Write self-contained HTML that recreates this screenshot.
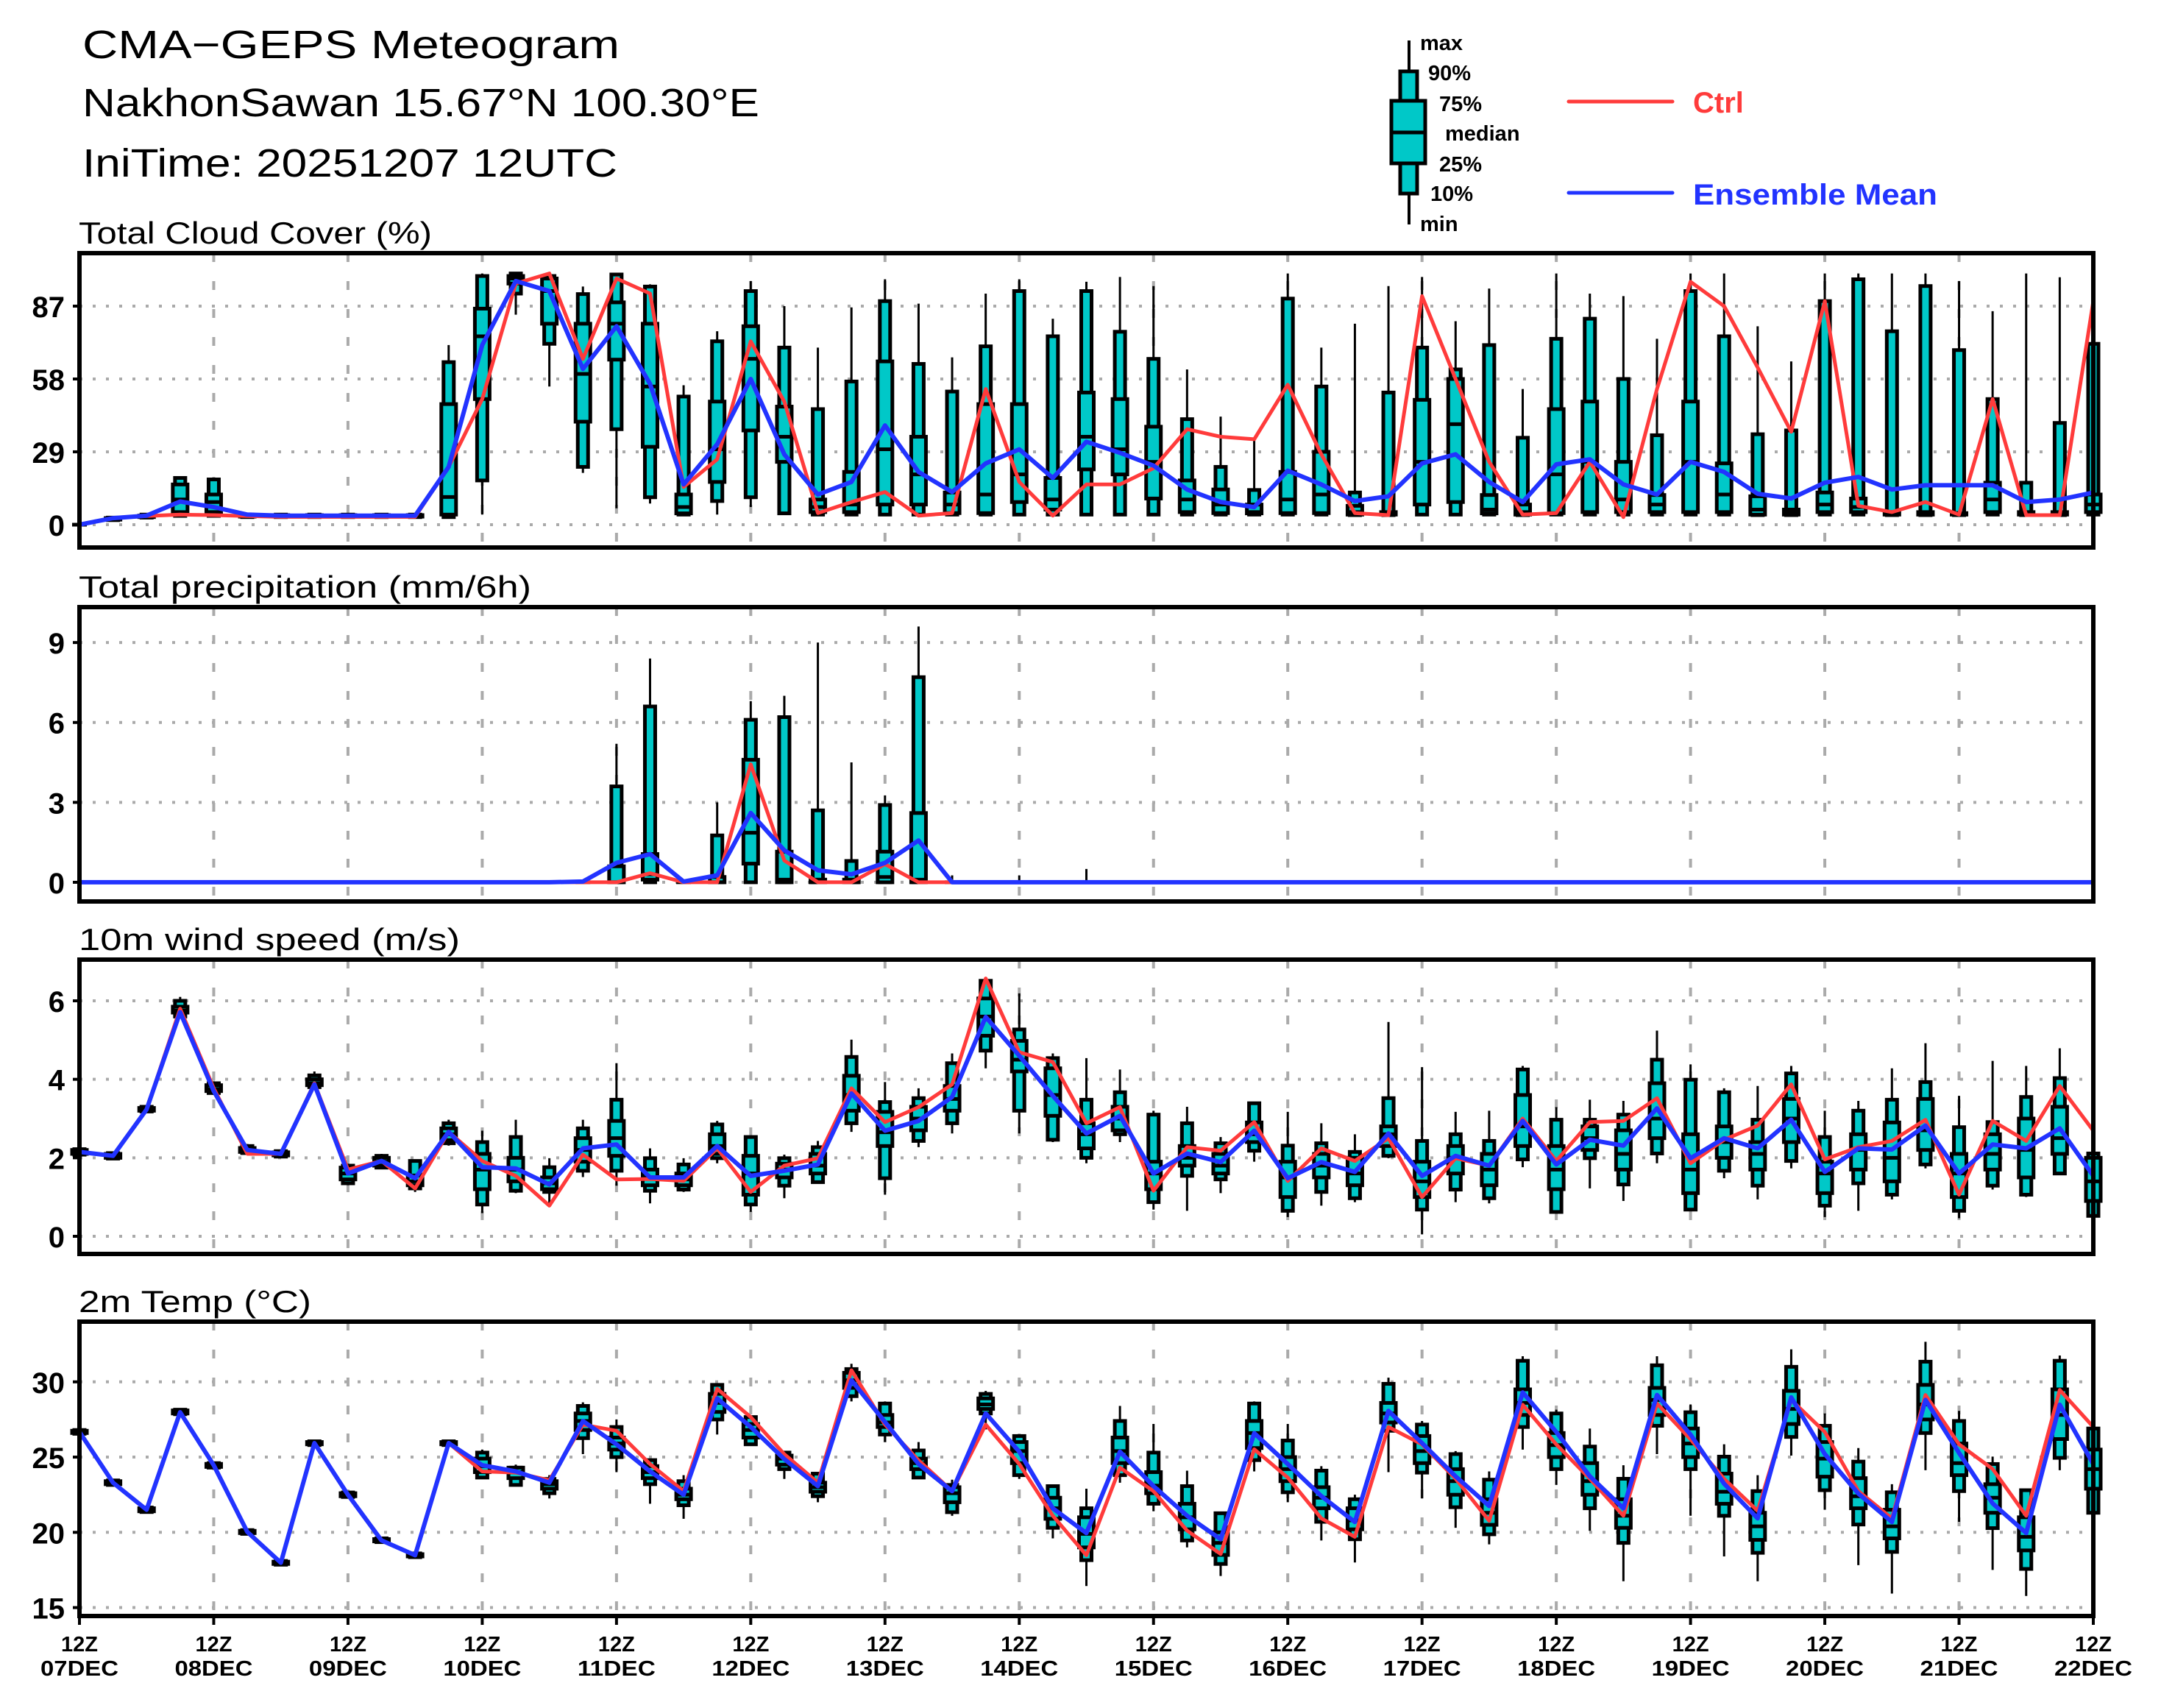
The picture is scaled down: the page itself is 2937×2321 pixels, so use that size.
<!DOCTYPE html>
<html><head><meta charset="utf-8">
<style>
html,body{margin:0;padding:0;background:#fff;}
svg{display:block;}
text{font-family:"Liberation Sans",Arial,sans-serif;}
</style></head>
<body>
<svg id="chart" xmlns="http://www.w3.org/2000/svg" width="2937" height="2321" viewBox="0 0 2937 2321">
<rect x="0" y="0" width="2937" height="2321" fill="#fff"/>
<g>
<text x="112" y="79" font-size="54" textLength="730" lengthAdjust="spacingAndGlyphs">CMA−GEPS Meteogram</text>
<text x="112" y="158" font-size="54" textLength="920" lengthAdjust="spacingAndGlyphs">NakhonSawan 15.67°N 100.30°E</text>
<text x="112" y="240" font-size="54" textLength="727" lengthAdjust="spacingAndGlyphs">IniTime: 20251207 12UTC</text>
</g>
<g>
<line x1="1915" y1="55" x2="1915" y2="305" stroke="#000" stroke-width="4"/>
<rect x="1903" y="97" width="23" height="166" fill="#00c8c8" stroke="#000" stroke-width="5"/>
<rect x="1891" y="137" width="46" height="85" fill="#00c8c8" stroke="#000" stroke-width="5"/>
<line x1="1891" y1="180" x2="1937" y2="180" stroke="#000" stroke-width="5"/>
<g font-size="29" font-weight="bold">
<text x="1930" y="68">max</text>
<text x="1941" y="109">90%</text>
<text x="1956" y="151">75%</text>
<text x="1964" y="191">median</text>
<text x="1956" y="233">25%</text>
<text x="1944" y="273">10%</text>
<text x="1930" y="314">min</text>
</g>
<line x1="2132" y1="138" x2="2273" y2="138" stroke="#ff3b3b" stroke-width="5" stroke-linecap="round"/>
<text x="2301" y="153" font-size="40" font-weight="bold" fill="#ff3b3b">Ctrl</text>
<line x1="2132" y1="262" x2="2273" y2="262" stroke="#2233ff" stroke-width="5" stroke-linecap="round"/>
<text x="2301" y="278" font-size="40" fill="#2233ff" font-weight="bold" textLength="332" lengthAdjust="spacingAndGlyphs">Ensemble Mean</text>
</g>
</svg>
<script>
const hours = [0,6,12,18,24,30,36,42,48,54,60,66,72,78,84,90,96,102,108,114,120,126,132,138,144,150,156,162,168,174,180,186,192,198,204,210,216,222,228,234,240,246,252,258,264,270,276,282,288,294,300,306,312,318,324,330,336,342,348,354,360];
const dayLabels = ["07DEC","08DEC","09DEC","10DEC","11DEC","12DEC","13DEC","14DEC","15DEC","16DEC","17DEC","18DEC","19DEC","20DEC","21DEC","22DEC"];

const cloudTicks = [0,29,58,87];
const cloudCtrl = [0,2.6,3.4,4,3.8,3.4,3.1,3.1,3.1,3.1,3.1,23,50,96,100,66,98,92,15,26,73,49,4.6,9,13,3.6,4.6,54,17,3.6,16,16,22.5,38,35,34,55.7,28,4.6,3.8,91,58,25,4,4.6,25,3,54,96.7,87,62.6,37,89,7.5,5,9,4,50,3.8,3.8,89];
const cloudMean = [0,2.6,3.6,9.2,7,4,3.6,3.6,3.6,3.6,3.6,23,71.5,97,93,62,79,56,16,32,58,28,12,17,39.5,21,13,24.4,30,18.6,33,28.6,23.5,14,9,7,21.5,16,9.4,11.3,24.4,28,17,9,24,26,16,12,25,21,12.3,10.4,16.7,19,14,15.7,15.7,15.7,9,10,12.8];
const cloudBox = [
[0,0,0,0,0,0,0],[1.5,1.8,2,2.3,2.6,2.8,3],[2.5,2.8,3,3.3,3.6,4,4.5],[3,3.5,5,10,16,18.6,19],[3,3.5,5,9,12,18,18],
[2.8,3,3.2,3.5,3.8,4,4.2],[2.8,3,3.2,3.5,3.8,4,4.2],[2.8,3,3.2,3.5,3.8,4,4.2],[2.8,3,3.2,3.5,3.8,4,4.2],[2.8,3,3.2,3.5,3.8,4,4.2],[2.8,3,3.2,3.5,3.8,4,4.2],
[3,3,4,11,48,64.7,71.5],[4,17.6,50,75,86,99,100],[83.6,92,96,98,99,100,100],[55,72,80,93,98,99,100],[20.6,23,41,60,80,91.8,94.8],
[6.5,38,65.7,80,88.5,99.6,100],[8.4,10.9,31,55,80,94.8,95.7],[3.6,4,4.5,7,12,51,55.5],[4,9.4,17,30,49,73,77],[7,10.9,37.5,66,79,93,97],
[4,4.5,25,35,47,70.5,87],[3.5,4,5,7,10,46,70.5],[3.6,4,5,8,21,57,86.5],[3.6,4,8,30,65,89,97.7],[3.6,4,8,20,35,64,88],
[3.6,4,4.6,8,12.8,53,66.6],[3.6,4,4.6,12,48,71,92],[3.6,4,9,20,48,93,97.7],[3.6,4,6,10,18.6,75,82],[3.6,4,22,35,52.6,93,96.7],
[3.6,4,20,30,50,76.8,98.6],[3.6,4,10.4,25,39,66,95],[3.6,4,5,10,17.6,42,61.8],[3.6,4,4.6,8,14,23,43],[3.6,4,4.5,5,8,13.8,33.7],
[3.6,4,4.6,10,21,90,100],[3.6,4,4.6,12,29,55,70.5],[3.6,3.8,4,5,7.5,12.8,80],[3.6,3.8,4,4.5,5,52.6,95],[3.6,4,8,25,49.7,70.5,98.6],
[3.6,4,9,40,58,61.8,81],[3.6,4,4.5,6,11.8,71.5,94],[3.6,3.8,4,5,8,34.6,54],[3.6,4,4.6,20,46,74,100],[3.6,4,5,25,49,82,92],
[3.6,4,5,10,25,58,91],[3.6,4,5,8,11.8,35.6,74],[3.6,4,5,25,49,93,100],[3.6,4,5,12,24.4,75,100],[3.6,3.8,4,6,11.3,36,79],
[3.6,3.8,4,5,6,37.5,65],[3.6,4,5,8,12.8,89,100],[3.6,4,5,7,10.4,97.7,100],[3.6,3.8,4,4.5,5,77,100],[3.6,3.8,4,4.5,5,95,100],
[3.6,3.8,4,4.2,4.6,69.5,97],[3.6,4,5,10,16.7,50,85],[3.6,3.8,4,4.5,5,16.7,100],[3.6,3.8,4,4.5,5,40.5,98.5],[3.6,4,5,8,12,72,72]];

const precipTicks = [0,3,6,9];
const precipCtrl = [0,0,0,0,0,0,0,0,0,0,0,0,0,0,0,0,0,0.34,0,0,4.43,0.82,0,0,0.68,0,0,0,0,0,0,0,0,0,0,0,0,0,0,0,0,0,0,0,0,0,0,0,0,0,0,0,0,0,0,0,0,0,0,0,0];
const precipMean = [0,0,0,0,0,0,0,0,0,0,0,0,0,0,0,0.03,0.73,1.06,0.03,0.26,2.6,1.2,0.45,0.3,0.73,1.57,0,0,0,0,0,0,0,0,0,0,0,0,0,0,0,0,0,0,0,0,0,0,0,0,0,0,0,0,0,0,0,0,0,0,0];
const precipBox = [
[0,0,0,0,0,0,0],[0,0,0,0,0,0,0],[0,0,0,0,0,0,0],[0,0,0,0,0,0,0],[0,0,0,0,0,0,0],[0,0,0,0,0,0,0],[0,0,0,0,0,0,0],[0,0,0,0,0,0,0],[0,0,0,0,0,0,0],[0,0,0,0,0,0,0],
[0,0,0,0,0,0,0],[0,0,0,0,0,0,0],[0,0,0,0,0,0,0],[0,0,0,0,0,0,0],[0,0,0,0,0,0,0],[0,0,0,0,0,0,0.05],
[0,0,0,0,0.6,3.6,5.2],[0,0,0.1,0.3,1.06,6.6,8.4],[0,0,0,0,0,0,0.05],[0,0,0,0,0.2,1.76,3.0],[0,0,0.7,1.86,4.6,6.1,6.8],
[0,0,0,0.1,1.15,6.2,7.0],[0,0,0,0,0.1,2.7,9.0],[0,0,0,0,0.1,0.8,4.5],[0,0,0,0.2,1.15,2.9,3.26],[0,0,0,0.1,2.6,7.7,9.6],
[0,0,0,0,0,0,0.26],[0,0,0,0,0,0,0],[0,0,0,0,0,0,0.26],[0,0,0,0,0,0,0],[0,0,0,0,0,0,0.5],
[0,0,0,0,0,0,0],[0,0,0,0,0,0,0],[0,0,0,0,0,0,0],[0,0,0,0,0,0,0],[0,0,0,0,0,0,0],[0,0,0,0,0,0,0],[0,0,0,0,0,0,0],[0,0,0,0,0,0,0],[0,0,0,0,0,0,0],[0,0,0,0,0,0,0],
[0,0,0,0,0,0,0],[0,0,0,0,0,0,0],[0,0,0,0,0,0,0],[0,0,0,0,0,0,0],[0,0,0,0,0,0,0],[0,0,0,0,0,0,0],[0,0,0,0,0,0,0],[0,0,0,0,0,0,0],[0,0,0,0,0,0,0],[0,0,0,0,0,0,0],
[0,0,0,0,0,0,0],[0,0,0,0,0,0,0],[0,0,0,0,0,0,0],[0,0,0,0,0,0,0],[0,0,0,0,0,0,0],[0,0,0,0,0,0,0],[0,0,0,0,0,0,0],[0,0,0,0,0,0,0],[0,0,0,0,0,0,0],[0,0,0,0,0,0,0]];

const windTicks = [0,2,4,6];
const windCtrl = [2.15,2.05,3.23,5.8,3.77,2.1,2.1,3.9,1.7,1.92,1.22,2.66,1.92,1.54,0.78,2.08,1.45,1.46,1.41,2.24,1.13,1.8,1.99,3.77,2.91,3.29,3.87,6.57,4.69,4.44,2.88,3.29,1.16,2.27,2.18,2.91,1.41,2.24,1.92,2.5,1.0,1.99,1.8,3.0,1.92,2.91,2.94,3.52,1.86,2.46,2.82,3.87,1.96,2.27,2.43,2.97,1.06,2.94,2.43,3.83,2.69];
const windMean = [2.15,2.05,3.23,5.71,3.7,2.2,2.1,3.87,1.6,1.92,1.48,2.66,1.76,1.73,1.32,2.24,2.34,1.5,1.5,2.3,1.54,1.67,1.83,3.64,2.69,2.94,3.55,5.59,4.6,3.58,2.62,3.07,1.6,2.11,1.89,2.69,1.48,1.89,1.64,2.62,1.54,2.05,1.8,2.94,1.83,2.46,2.31,3.26,1.99,2.5,2.24,2.97,1.64,2.24,2.21,2.82,1.6,2.34,2.24,2.75,1.54];
const windBox = [
[2.05,2.08,2.1,2.15,2.2,2.22,2.25],[1.95,1.98,2.0,2.05,2.1,2.12,2.15],[3.15,3.18,3.2,3.23,3.27,3.3,3.33],[5.55,5.6,5.7,5.75,5.85,6.0,6.1],[3.6,3.65,3.7,3.75,3.85,3.9,3.95],
[2.1,2.12,2.15,2.2,2.25,2.3,2.35],[2.0,2.03,2.06,2.1,2.14,2.17,2.2],[3.75,3.8,3.85,3.9,4.0,4.1,4.2],[1.3,1.35,1.45,1.6,1.75,1.8,1.85],[1.73,1.75,1.8,1.9,2.0,2.05,2.1],
[1.13,1.22,1.3,1.4,1.55,1.92,1.96],[2.31,2.37,2.45,2.6,2.75,2.88,2.97],[0.59,0.81,1.2,1.7,2.1,2.4,2.69],[1.1,1.16,1.4,1.7,2.0,2.53,2.97],[0.78,1.13,1.2,1.35,1.5,1.76,1.99],
[1.51,1.67,1.9,2.2,2.5,2.75,2.97],[1.29,1.67,2.05,2.5,2.94,3.48,4.41],[0.84,1.16,1.3,1.5,1.7,1.99,2.24],[1.13,1.19,1.3,1.45,1.6,1.83,1.99],[1.86,1.99,2.1,2.3,2.6,2.85,2.94],
[0.62,0.81,1.06,1.6,2.05,2.53,2.53],[0.97,1.29,1.5,1.7,1.85,1.99,2.08],[1.35,1.38,1.6,1.8,2.1,2.27,2.43],[2.66,2.88,3.2,3.6,4.09,4.57,5.01],[1.06,1.48,2.3,2.65,3.17,3.42,3.93],
[2.27,2.43,2.7,3.0,3.3,3.52,3.77],[2.62,2.88,3.2,3.5,3.83,4.41,4.66],[4.28,4.73,5.11,5.6,6.06,6.51,6.6],[2.62,3.2,4.2,4.5,4.98,5.27,6.19],[2.4,2.46,3.07,3.6,4.28,4.54,4.66],
[1.86,2.0,2.24,2.6,2.88,3.48,4.54],[2.4,2.6,2.7,3.0,3.3,3.67,4.25],[0.68,0.87,1.2,1.6,1.9,3.1,3.2],[0.65,1.54,1.8,2.0,2.3,2.88,3.3],[1.1,1.45,1.6,1.8,2.1,2.37,2.53],
[1.9,2.18,2.4,2.6,2.9,3.39,3.39],[0.49,0.65,1.0,1.5,1.9,2.31,3.17],[0.78,1.13,1.5,1.8,2.1,2.37,2.88],[0.87,0.97,1.3,1.6,2.0,2.15,2.6],[1.99,2.05,2.3,2.6,2.8,3.52,5.46],
[0.05,0.68,1.0,1.4,1.9,2.43,4.31],[0.87,1.19,1.6,2.0,2.3,2.6,3.17],[0.84,0.97,1.3,1.7,2.1,2.43,3.2],[1.76,1.96,2.3,2.8,3.6,4.25,4.34],[0.62,0.62,1.2,1.7,2.3,2.97,3.29],
[1.22,1.99,2.2,2.5,2.8,2.97,3.48],[0.9,1.32,1.7,2.1,2.7,3.1,3.45],[1.86,2.11,2.5,3.0,3.9,4.5,5.24],[0.68,0.68,1.1,1.7,2.6,3.99,4.38],[1.48,1.67,2.0,2.4,2.8,3.67,3.77],
[0.94,1.29,1.7,2.1,2.4,2.97,3.83],[1.73,1.92,2.4,3.0,3.5,4.15,4.34],[0.49,0.78,1.1,1.6,1.9,2.53,3.2],[0.65,1.35,1.7,2.2,2.6,3.2,3.45],[0.94,1.06,1.4,2.0,2.9,3.48,4.28],
[1.73,1.83,2.2,2.7,3.5,3.93,4.92],[0.46,0.65,1.0,1.6,2.1,2.78,3.58],[1.19,1.29,1.7,2.1,2.6,2.91,4.47],[1.0,1.06,1.5,2.2,3.0,3.55,4.34],[1.6,1.6,2.1,2.5,3.3,4.03,4.79],
[0.52,0.52,0.9,1.4,2.0,2.11,2.69]];

const tempTicks = [15,20,25,30];
const tempCtrl = [26.67,23.3,21.5,28.0,24.46,20.03,17.98,25.93,22.5,19.46,18.48,25.93,24.05,23.97,23.46,27.16,26.75,24.54,22.74,29.54,27.66,25.2,23.3,30.77,27.16,24.79,22.74,27.16,24.54,21.1,18.48,24.3,22.74,20.11,18.56,25.52,23.64,20.93,19.7,27.0,25.85,23.56,20.77,28.48,25.85,23.56,21.1,28.56,26.18,23.56,21.43,28.8,26.67,22.74,20.93,29.13,25.85,24.21,21.1,29.46,27.0];
const tempMean = [26.67,23.3,21.5,27.98,24.46,20.03,17.98,25.93,22.5,19.46,18.48,25.93,24.46,24.05,23.3,27.4,25.85,24.05,22.5,28.9,27.0,24.87,23.07,30.11,27.33,24.54,22.74,27.9,25.36,21.6,19.95,25.36,23.07,21.1,19.54,26.59,24.54,22.41,20.69,28.07,25.93,23.72,21.75,29.3,26.67,23.72,21.6,29.13,26.5,23.23,20.93,28.97,25.2,22.57,20.69,28.8,25.28,21.92,19.95,28.48,24.54];
const tempBox = [
[26.5,26.55,26.6,26.67,26.75,26.8,26.85],[23.1,23.15,23.2,23.3,23.4,23.45,23.5],[21.3,21.35,21.4,21.5,21.6,21.65,21.7],[27.8,27.85,27.9,28.0,28.1,28.15,28.2],[24.25,24.3,24.35,24.45,24.55,24.6,24.65],
[19.85,19.9,19.95,20.03,20.1,20.15,20.2],[17.8,17.85,17.9,17.98,18.05,18.1,18.15],[25.75,25.8,25.85,25.93,26.0,26.05,26.1],[22.3,22.35,22.4,22.5,22.6,22.65,22.7],[19.3,19.35,19.4,19.46,19.55,19.6,19.65],
[18.3,18.35,18.4,18.48,18.55,18.6,18.65],[25.75,25.8,25.85,25.93,26.0,26.05,26.1],[23.55,23.64,24.0,24.4,24.9,25.3,25.5],[23.15,23.15,23.6,24.0,24.3,24.3,24.5],[22.25,22.6,22.9,23.2,23.4,23.55,23.8],
[25.2,26.26,26.8,27.4,27.9,28.4,28.64],[24.0,25.0,25.5,25.9,26.3,27.0,27.5],[21.9,23.2,23.6,24.0,24.4,24.8,24.8],[20.9,21.8,22.2,22.5,22.9,23.4,23.8],[26.5,27.5,28.0,28.6,29.2,29.8,29.9],
[25.8,25.85,26.3,26.8,27.2,27.66,27.66],[23.55,24.2,24.5,24.9,25.1,25.3,25.3],[22.0,22.4,22.7,23.0,23.3,23.9,23.97],[28.7,29.05,29.6,30.1,30.6,30.85,31.2],[26.0,26.5,27.0,27.3,27.8,28.56,28.7],
[23.55,23.64,24.2,24.6,24.9,25.44,26.0],[21.1,21.34,22.0,22.6,23.0,23.15,23.5],[26.84,27.9,28.2,28.5,28.9,29.2,29.4],[23.55,23.8,24.6,25.4,26.0,26.4,26.5],[19.6,20.3,20.9,21.6,22.3,23.07,23.07],
[16.43,18.15,19.0,19.9,21.0,21.6,22.9],[23.3,23.8,24.6,25.4,26.3,27.4,28.4],[21.4,21.9,22.6,23.1,24.0,25.3,27.2],[19.0,19.46,20.2,21.0,21.9,23.07,24.1],[17.1,17.9,18.5,19.3,20.0,21.27,21.27],
[24.05,24.8,25.6,26.6,27.4,28.56,28.7],[22.0,22.66,23.4,24.2,25.0,26.1,27.2],[19.46,20.7,21.6,22.3,23.0,24.1,24.4],[18.0,19.54,20.2,20.8,21.6,22.2,22.5],[24.0,26.75,27.3,27.9,28.6,29.87,30.28],
[22.25,23.97,24.6,25.4,26.4,27.16,27.4],[20.3,21.67,22.5,23.4,24.2,25.2,25.4],[19.2,19.87,20.5,21.3,22.2,23.5,24.05],[25.5,27.0,27.8,28.6,29.5,31.4,31.7],[23.15,24.2,25.0,25.8,26.6,27.9,28.15],
[20.1,21.6,22.5,23.4,24.6,25.7,26.9],[16.75,19.3,20.3,21.1,22.2,23.56,24.46],[25.2,27.08,27.8,28.8,29.6,31.1,31.7],[21.1,24.2,25.0,25.9,26.9,27.98,28.5],[18.4,21.1,21.9,22.7,23.9,25.03,25.85],
[16.75,18.64,19.5,20.4,21.3,22.74,23.8],[25.1,26.34,27.2,28.2,29.4,31.0,32.16],[21.5,22.8,23.7,24.9,26.0,27.08,27.9],[17.82,20.52,21.6,22.4,23.6,24.7,25.6],[15.93,18.7,19.6,20.4,21.5,22.66,23.2],
[24.13,26.6,27.5,28.5,29.8,31.34,32.66],[20.7,22.74,23.8,24.6,25.9,27.4,28.07],[17.5,20.28,21.3,22.3,23.2,24.54,25.03],[15.77,17.57,18.8,19.7,21.0,22.8,22.9],[24.13,24.95,26.2,27.8,29.5,31.4,31.75],
[21.3,21.3,22.9,24.2,25.5,26.9,26.9]];

const NS = "http://www.w3.org/2000/svg";
const svg = document.getElementById("chart");
const X0 = 108, X1 = 2845, HMAX = 360;
function xScale(h){ return X0 + (h / HMAX) * (X1 - X0); }
function mk(tag, attrs, parent){
  const e = document.createElementNS(NS, tag);
  for (const k in attrs) e.setAttribute(k, attrs[k]);
  (parent || svg).appendChild(e);
  return e;
}

function drawPanel(cfg){
  const g = mk("g", {});
  
  
  const top = cfg.top, bot = cfg.top + 400;
  const yScale = v => bot - (v - cfg.min) / (cfg.max - cfg.min) * 400;
  const t = mk("text", {x: 107, y: top - 13, "font-size": 42}, g);
  t.textContent = cfg.title;
  
  
  t.setAttribute('textLength', cfg.titleLen);
  t.setAttribute('lengthAdjust', 'spacingAndGlyphs');
  for (let d = 1; d < dayLabels.length - 1; d++){
    const x = xScale(d * 24);
    const l = mk("line", {x1: x, y1: top, x2: x, y2: bot, stroke: "#aaa", "stroke-width": 4, "stroke-dasharray": "12 26"}, g);
    
    
  }
  cfg.ticks.forEach(v => {
    const y = yScale(v);
    const l = mk("line", {x1: X0, y1: y, x2: X1, y2: y, stroke: "#aaa", "stroke-width": 4, "stroke-dasharray": "4 14"}, g);
    
    
    mk("line", {x1: X0 - 9, y1: y, x2: X0, y2: y, stroke: "#000", "stroke-width": 4}, g);
    const tl = mk("text", {x: 88, y: y + 15, "font-size": 40, "font-weight": "bold", "text-anchor": "end"}, g);
    tl.textContent = String(v);
    
    
  });
  cfg.box.forEach((b, i) => {
    if (cfg.skipZero && b[6] === 0) return;
    const x = xScale(hours[i]);
    const bg = mk("g", {}, g);
    
    
    mk("line", {x1: x, y1: yScale(b[0]), x2: x, y2: yScale(b[6]), stroke: "#000", "stroke-width": 3}, bg);
    const y10 = yScale(b[1]), y90 = yScale(b[5]);
    mk("rect", {x: x - 7, y: y90, width: 14, height: Math.max(0, y10 - y90), fill: "#00c8c8", stroke: "#000", "stroke-width": 5}, bg);
    const y25 = yScale(b[2]), y75 = yScale(b[4]);
    mk("rect", {x: x - 10, y: y75, width: 20, height: Math.max(0, y25 - y75), fill: "#00c8c8", stroke: "#000", "stroke-width": 5}, bg);
    const ym = yScale(b[3]);
    mk("line", {x1: x - 10, y1: ym, x2: x + 10, y2: ym, stroke: "#000", "stroke-width": 5}, bg);
  });
  const ctrlPts = cfg.ctrl.map((v, i) => xScale(hours[i]).toFixed(1) + "," + yScale(v).toFixed(1)).join(" ");
  const cl = mk("polyline", {points: ctrlPts, fill: "none", stroke: "#ff3b3b", "stroke-width": 5, "stroke-linejoin": "round"}, g);
  
  
  const meanPts = cfg.mean.map((v, i) => xScale(hours[i]).toFixed(1) + "," + yScale(v).toFixed(1)).join(" ");
  const ml = mk("polyline", {points: meanPts, fill: "none", stroke: "#2233ff", "stroke-width": 6, "stroke-linejoin": "round"}, g);
  
  
  const fr = mk("rect", {x: X0, y: top, width: X1 - X0, height: 400, fill: "none", stroke: "#000", "stroke-width": 6}, g);
  
  
  return bot;
}

drawPanel({name: "cloud", title: "Total Cloud Cover (%)", titleLen: 480, top: 344, min: -9.1, max: 108.1, ticks: cloudTicks, box: cloudBox, ctrl: cloudCtrl, mean: cloudMean});
drawPanel({name: "precip", title: "Total precipitation (mm/6h)", titleLen: 615, top: 825, min: -0.72, max: 10.33, ticks: precipTicks, box: precipBox, ctrl: precipCtrl, mean: precipMean, skipZero: true});
drawPanel({name: "wind", title: "10m wind speed (m/s)", titleLen: 518, top: 1304, min: -0.45, max: 7.05, ticks: windTicks, box: windBox, ctrl: windCtrl, mean: windMean});
const tb = drawPanel({name: "temp", title: "2m Temp (°C)", titleLen: 316, top: 1796, min: 14.44, max: 34.0, ticks: tempTicks, box: tempBox, ctrl: tempCtrl, mean: tempMean});

dayLabels.forEach((lab, d) => {
  const x = xScale(d * 24);
  mk("line", {x1: x, y1: tb, x2: x, y2: tb + 12, stroke: "#000", "stroke-width": 4});
  const t1 = mk("text", {x: x, y: 2244, "font-size": 29, "font-weight": "bold", "text-anchor": "middle"});
  t1.textContent = "12Z";
  
  
  const t2 = mk("text", {x: x, y: 2277, "font-size": 29, "font-weight": "bold", "text-anchor": "middle", textLength: 106, lengthAdjust: "spacingAndGlyphs"});
  t2.textContent = lab;
  
  
});
</script>
</body></html>
